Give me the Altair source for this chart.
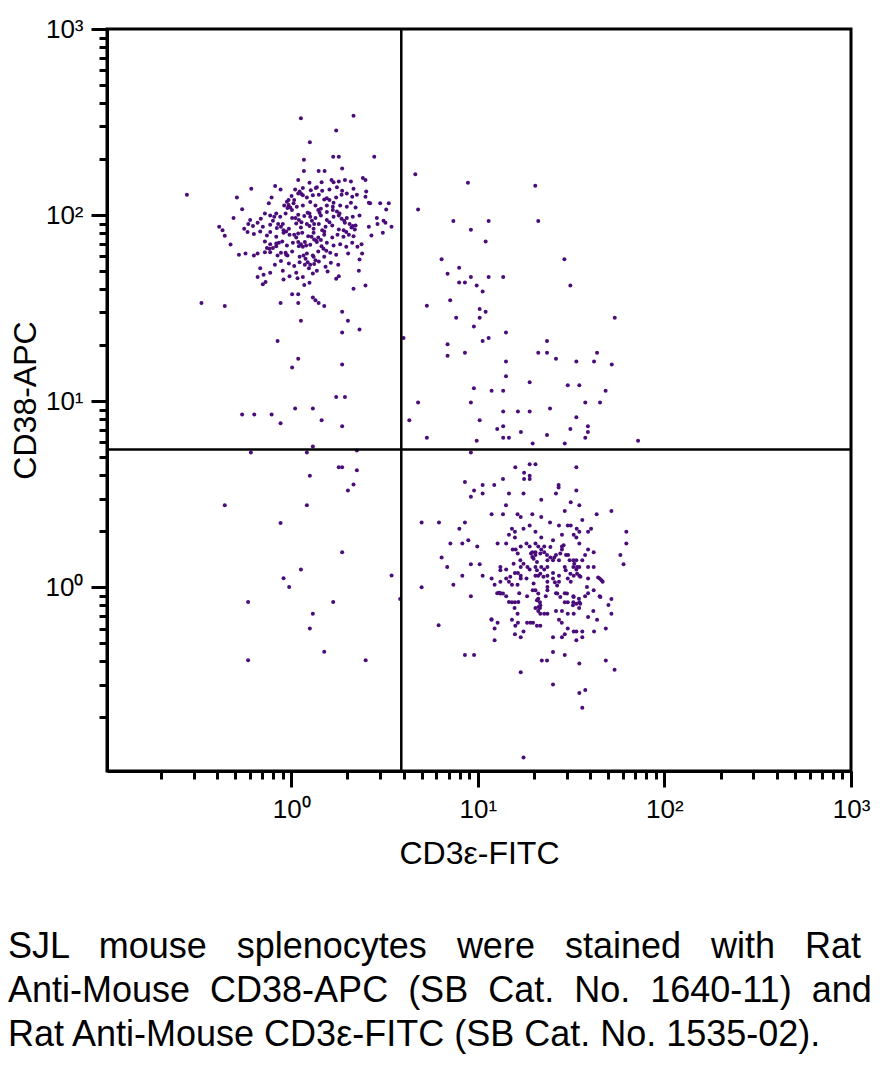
import altair as alt
import pandas as pd

# Events as (log10 CD3e-FITC, log10 CD38-APC)
cd3neg_cd38pos = [
    (0.052, 2.52), (0.334, 2.534), (0.241, 2.455), (0.10, 2.392), (0.225, 2.314), (0.255, 2.314),
    (0.445, 2.314), (0.068, 2.297), (0.273, 2.251), (0.068, 2.237), (0.147, 2.237), (0.179, 2.237),
    (-0.559, 2.109), (-0.214, 2.142), (-0.291, 2.095), (-0.263, 2.032), (-0.309, 1.984),
    (-0.386, 1.937), (-0.368, 1.919), (-0.356, 1.889), (-0.325, 1.842),
    (0.0375, 2.188), (0.098, 2.174), (0.163, 2.177), (0.216, 2.188), (0.227, 2.177), (0.255, 2.181),
    (0.288, 2.188), (0.32, 2.181), (0.384, 2.199), (0.398, 2.188), (0.1375, 2.149),
    (-0.086, 2.156), (-0.057, 2.138), (0.021, 2.138), (0.0625, 2.145), (0.105, 2.134), (0.132, 2.145),
    (0.166, 2.131), (0.205, 2.138), (0.245, 2.149), (0.273, 2.131), (0.334, 2.142), (0.402, 2.127),
    (0.298, 2.116),
    (-0.105, 2.095), (-0.014, 2.081), (0.002, 2.102), (0.0375, 2.116), (0.0625, 2.106), (0.084, 2.095),
    (0.116, 2.106), (0.148, 2.109), (0.177, 2.084), (0.241, 2.095), (0.27, 2.109), (0.327, 2.099),
    (0.352, 2.109), (0.398, 2.099), (0.423, 2.063), (0.477, 2.063), (0.523, 2.063),
    (-0.12, 2.063), (-0.0375, 2.052), (-0.02, 2.038), (0.0125, 2.063), (0.03, 2.045), (0.0625, 2.052),
    (0.102, 2.07), (0.13, 2.052), (0.159, 2.034), (0.191, 2.052), (0.227, 2.066), (0.2625, 2.052),
    (0.298, 2.045), (0.32, 2.066), (0.345, 2.041), (0.416, 2.066), (0.509, 2.03),
    (-0.22, 1.973), (-0.163, 1.98), (-0.141, 2.009), (-0.1125, 1.998), (-0.08, 2.009), (-0.059, 1.991),
    (-0.03, 2.009), (0.005, 1.984), (0.0375, 2.002), (0.07, 1.995), (0.098, 2.009), (0.13, 1.984),
    (0.159, 1.998), (0.191, 2.016), (0.227, 1.991), (0.259, 2.009), (0.298, 1.984), (0.33, 1.991),
    (0.366, 1.998), (0.459, 1.984), (0.495, 1.97),
    (-0.252, 1.927), (-0.23, 1.952), (-0.205, 1.941), (-0.18, 1.959), (-0.152, 1.937), (-0.1125, 1.948),
    (-0.077, 1.93), (-0.045, 1.952), (-0.0125, 1.927), (0.027, 1.955), (0.052, 1.934), (0.084, 1.952),
    (0.12, 1.927), (0.148, 1.952), (0.184, 1.937), (0.22, 1.944), (0.255, 1.923), (0.2875, 1.959),
    (0.323, 1.934), (0.345, 1.944), (0.416, 1.937), (0.4625, 1.952), (0.505, 1.959), (0.5375, 1.937),
    (-0.234, 1.909), (-0.20, 1.898), (-0.166, 1.912), (-0.13, 1.891), (-0.1125, 1.909), (-0.08, 1.883),
    (-0.041, 1.905), (-0.009, 1.894), (0.027, 1.88), (0.059, 1.905), (0.091, 1.887), (0.12, 1.905),
    (0.145, 1.88), (0.177, 1.894), (0.22, 1.88), (0.248, 1.894), (0.28, 1.883), (0.309, 1.894),
    (0.334, 1.887), (0.43, 1.891), (0.491, 1.905),
    (-0.141, 1.858), (-0.1125, 1.844), (-0.08, 1.833), (-0.048, 1.858), (-0.023, 1.837), (0.009, 1.851),
    (0.041, 1.833), (0.073, 1.855), (0.102, 1.84), (0.134, 1.862), (0.1625, 1.833), (0.191, 1.851),
    (0.227, 1.837), (0.2625, 1.844), (0.295, 1.83), (0.327, 1.851), (0.355, 1.83), (0.377, 1.844),
    (-0.28, 1.787), (-0.245, 1.794), (-0.20, 1.783), (-0.18, 1.794), (-0.141, 1.801), (-0.1125, 1.801),
    (-0.073, 1.783), (-0.055, 1.797), (-0.027, 1.787), (0.005, 1.805), (0.045, 1.776), (0.084, 1.794),
    (0.116, 1.783), (0.145, 1.805), (0.177, 1.776), (0.209, 1.797), (0.241, 1.787), (0.305, 1.794),
    (0.38, 1.794),
    (-0.166, 1.715), (-0.0875, 1.733), (-0.055, 1.754), (-0.0125, 1.74), (0.016, 1.726), (0.045, 1.747),
    (0.073, 1.733), (0.095, 1.715), (0.123, 1.737), (0.148, 1.751), (0.184, 1.722), (0.2125, 1.744),
    (0.252, 1.733), (0.366, 1.762),
    (-0.18, 1.668), (-0.148, 1.679), (-0.1125, 1.69), (-0.045, 1.701), (-0.009, 1.672), (0.027, 1.69),
    (0.0625, 1.668), (0.116, 1.686), (0.1375, 1.701), (0.195, 1.697), (0.255, 1.672), (0.3625, 1.701),
    (-0.152, 1.629), (-0.1375, 1.64), (-0.041, 1.654), (0.034, 1.661), (0.07, 1.625), (0.098, 1.636),
    (0.241, 1.658), (0.334, 1.604), (0.398, 1.622), (0.005, 1.575), (0.0375, 1.575), (0.116, 1.557),
    (-0.481, 1.527), (-0.356, 1.511), (-0.057, 1.527), (0.0375, 1.527), (0.13, 1.543), (0.147, 1.527),
    (0.177, 1.511), (0.273, 1.48), (0.052, 1.432), (0.304, 1.432), (0.366, 1.385), (0.273, 1.369),
    (-0.073, 1.323), (0.0375, 1.228), (0.005, 1.181), (0.273, 1.197), (0.241, 1.023), (0.288, 1.023),
    (0.021, 0.961), (0.116, 0.961), (-0.263, 0.928), (-0.198, 0.928), (-0.105, 0.928), (-0.057, 0.882),
    (0.163, 0.898), (0.273, 0.866), (0.116, 0.756),
]

# extra events read from the overlapping blobs in the dense CD38+ core
cd3neg_cd38pos_core = [
    (-0.023, 2.072), (-0.014, 2.054), (-0.005, 2.041), (0.004, 2.027), (0.016, 2.081), (0.045, 2.127),
    (0.055, 2.113), (0.088, 2.013), (0.102, 1.991), (0.111, 1.97), (0.123, 1.952), (0.098, 1.941),
    (-0.07, 1.952), (-0.055, 1.937), (-0.041, 1.919), (-0.027, 1.912), (-0.13, 1.823), (-0.116, 1.819),
    (-0.098, 1.823), (-0.08, 1.848), (-0.066, 1.851), (0.0375, 1.855), (0.052, 1.844), (0.0625, 1.83),
    (0.08, 1.837), (0.109, 1.883), (0.123, 1.869), (0.1375, 1.855), (0.159, 1.866), (0.245, 2.02),
    (0.255, 1.998), (0.27, 1.98), (0.284, 1.97), (0.313, 1.952), (0.33, 1.941), (0.341, 1.923),
    (-0.03, 1.797), (-0.02, 1.783), (0.066, 1.783), (0.077, 1.765), (0.088, 1.747), (0.102, 1.733),
    (0.12, 1.776), (0.13, 1.758), (0.173, 1.819), (0.188, 1.808), (0.023, 1.984), (0.041, 1.973),
    (0.055, 1.962), (0.191, 1.973), (0.205, 1.962), (0.166, 1.919), (0.177, 1.912), (0.016, 1.894),
    (0.0375, 1.901), (0.281, 1.919), (0.295, 1.909), (-0.091, 1.991), (-0.098, 1.97), (0.145, 2.027),
    (0.152, 2.013), (0.191, 2.091), (0.205, 2.081), (0.223, 2.045), (0.223, 2.027),
]

cd3neg_cd38neg = [
    (-0.216, 0.724), (0.084, 0.724), (0.352, 0.735), (0.255, 0.645), (0.273, 0.645), (0.352, 0.629),
    (0.10, 0.599), (0.334, 0.552), (0.304, 0.52), (-0.356, 0.441), (0.084, 0.441), (-0.057, 0.346),
    (0.273, 0.188), (0.052, 0.095), (-0.041, 0.048), (-0.011, 0.002), (0.538, 0.063), (-0.231, -0.079),
    (0.225, -0.079), (0.584, -0.063), (0.116, -0.142), (0.10, -0.222), (0.177, -0.346),
    (-0.231, -0.392), (0.399, -0.392),
]

cd3pos_cd38pos = [
    (0.665, 2.22), (0.947, 2.174), (1.308, 2.158), (0.68, 2.03), (0.869, 1.968), (1.058, 1.968),
    (1.324, 1.968), (0.963, 1.921), (1.042, 1.858), (0.806, 1.763), (1.464, 1.763), (0.90, 1.717),
    (0.838, 1.685), (0.963, 1.668), (1.058, 1.668), (1.136, 1.668), (0.90, 1.638), (0.931, 1.638),
    (0.994, 1.622), (1.026, 1.59), (1.496, 1.622), (0.727, 1.513), (0.852, 1.543), (1.01, 1.496),
    (1.042, 1.48), (0.884, 1.448), (1.01, 1.448), (1.734, 1.448), (0.979, 1.401), (1.151, 1.369),
    (0.602, 1.339), (1.026, 1.323), (1.058, 1.339), (1.371, 1.323), (0.838, 1.306), (0.838, 1.244),
    (0.931, 1.26), (1.324, 1.26), (1.371, 1.26), (1.419, 1.228), (1.151, 1.213), (1.528, 1.213),
    (1.623, 1.213), (1.639, 1.26), (1.718, 1.197), (1.151, 1.134), (1.278, 1.102), (0.979, 1.07),
    (1.074, 1.056), (1.136, 1.056), (1.482, 1.086), (1.544, 1.086), (1.685, 1.056), (0.68, 0.993),
    (0.963, 0.993), (1.576, 0.993), (1.655, 0.993), (1.136, 0.944), (1.215, 0.944), (1.278, 0.944),
    (1.387, 0.961), (0.633, 0.898), (1.01, 0.898), (1.528, 0.914), (1.104, 0.851), (1.136, 0.866),
    (1.496, 0.851), (1.59, 0.866), (1.59, 0.835), (1.231, 0.835), (1.371, 0.819), (0.727, 0.803),
    (1.136, 0.803), (1.167, 0.803), (1.576, 0.803), (0.994, 0.787), (1.859, 0.787), (1.294, 0.772),
    (1.466, 0.772),
]

cd3pos_cd38neg = [
    (0.963, 0.724), (1.201, 0.645), (1.278, 0.661), (1.309, 0.661), (1.528, 0.645),
    (1.248, 0.615), (1.248, 0.582), (1.278, 0.599), (1.278, 0.582), (1.135, 0.582),
    (0.931, 0.566), (1.026, 0.55), (1.088, 0.55), (0.98, 0.52), (1.026, 0.504), (0.963, 0.487),
    (1.167, 0.504), (1.245, 0.504), (1.419, 0.504), (1.433, 0.55), (1.433, 0.536), (1.528, 0.52),
    (1.34, 0.471), (1.151, 0.441), (1.498, 0.457), (1.544, 0.441),
    (1.074, 0.392), (1.135, 0.392), (1.213, 0.392), (1.23, 0.378), (1.292, 0.392), (1.34, 0.378),
    (1.466, 0.41), (1.637, 0.392), (1.716, 0.41), (1.56, 0.362),
    (0.699, 0.348), (0.792, 0.348), (0.931, 0.348), (0.901, 0.315), (1.387, 0.348), (1.435, 0.332),
    (1.482, 0.332), (1.498, 0.332), (1.53, 0.315), (1.544, 0.299), (1.607, 0.315), (1.591, 0.299),
    (1.796, 0.299), (1.183, 0.315), (1.199, 0.299), (1.245, 0.315), (1.278, 0.332), (1.309, 0.299),
    (1.451, 0.283), (1.514, 0.283), (1.528, 0.267), (1.167, 0.283), (1.199, 0.267), (1.34, 0.267),
    (1.403, 0.253),
    (0.853, 0.235), (0.917, 0.235), (0.949, 0.253), (0.997, 0.219), (1.106, 0.235), (1.152, 0.235),
    (1.23, 0.219), (1.261, 0.235), (1.278, 0.219), (1.309, 0.235), (1.324, 0.219), (1.356, 0.219),
    (1.34, 0.203), (1.451, 0.219), (1.451, 0.203), (1.544, 0.235), (1.591, 0.203), (1.621, 0.188),
    (1.796, 0.235),
    (1.187, 0.203), (1.203, 0.203), (1.292, 0.188), (1.309, 0.174), (1.292, 0.163), (1.309, 0.188),
    (1.356, 0.188), (1.371, 0.174), (1.373, 0.145), (1.403, 0.145), (1.435, 0.145), (1.419, 0.174),
    (1.473, 0.174), (1.484, 0.174), (1.512, 0.145), (1.528, 0.145), (1.56, 0.145), (1.575, 0.174),
    (1.764, 0.174),
    (0.806, 0.16), (0.836, 0.109), (0.963, 0.124), (1.01, 0.124), (1.121, 0.109), (1.152, 0.095),
    (1.23, 0.109), (1.245, 0.127), (1.278, 0.095), (1.309, 0.109), (1.34, 0.109), (1.356, 0.095),
    (1.466, 0.109), (1.512, 0.109), (1.528, 0.095), (1.544, 0.109), (1.591, 0.109), (1.781, 0.124),
    (0.917, 0.062), (1.026, 0.062), (1.074, 0.047), (1.09, 0.014), (1.121, 0.03), (1.152, 0.047),
    (1.167, 0.03), (1.183, 0.014), (1.199, 0.077), (1.215, 0.077), (1.23, 0.062), (1.23, 0.047),
    (1.213, 0.014), (1.261, 0.047), (1.309, 0.062), (1.324, 0.062), (1.309, -0.016), (1.373, 0.062),
    (1.373, 0.03), (1.403, 0.077), (1.403, 0.047), (1.435, 0.062), (1.435, 0.03), (1.482, 0.047),
    (1.498, 0.03), (1.514, 0.062), (1.544, 0.062), (1.591, 0.047), (1.653, 0.047), (1.669, 0.03),
    (0.869, 0.014), (0.699, 0.0), (0.963, -0.048), (1.104, -0.032), (1.121, -0.032), (1.152, -0.048),
    (1.183, -0.081), (1.199, -0.081), (1.222, -0.032), (1.264, -0.048), (1.294, -0.016),
    (1.333, -0.081), (1.333, -0.111), (1.364, -0.048), (1.419, -0.032), (1.466, -0.032),
    (1.466, -0.081), (1.482, -0.081), (1.512, -0.048), (1.512, -0.081), (1.544, -0.081),
    (1.575, -0.048), (1.591, -0.032), (1.621, -0.016), (1.653, -0.048), (1.716, -0.063),
    (1.70, -0.095), (1.716, -0.142),
    (1.073, -0.172), (1.197, -0.111), (1.213, -0.142), (1.309, -0.111), (1.324, -0.127),
    (1.356, -0.142), (1.419, -0.127), (1.451, -0.127), (1.482, -0.142), (1.619, -0.127),
    (1.543, -0.111),
    (0.79, -0.204), (1.074, -0.174), (1.106, -0.19), (1.09, -0.222), (1.09, -0.285), (1.183, -0.174),
    (1.201, -0.206), (1.215, -0.19), (1.199, -0.253), (1.23, -0.269), (1.245, -0.237), (1.264, -0.19),
    (1.282, -0.19), (1.296, -0.19), (1.317, -0.206), (1.335, -0.206), (1.403, -0.269), (1.435, -0.174),
    (1.45, -0.19), (1.466, -0.253), (1.451, -0.269), (1.482, -0.222), (1.514, -0.237), (1.528, -0.237),
    (1.56, -0.237), (1.56, -0.269), (1.528, -0.285), (1.591, -0.16), (1.623, -0.237), (1.639, -0.174),
    (1.686, -0.222),
    (0.931, -0.364), (0.98, -0.364), (1.23, -0.457), (1.343, -0.394), (1.371, -0.394), (1.403, -0.348),
    (1.466, -0.364), (1.403, -0.522), (1.544, -0.41), (1.544, -0.568), (1.576, -0.552), (1.56, -0.647),
    (1.686, -0.394), (1.733, -0.443), (1.245, -0.914),
]

# extra events read from the overlapping blobs in the dense CD3+ core
cd3pos_cd38neg_core = [
    (1.285, 0.181), (1.299, 0.154), (1.317, 0.136), (1.335, 0.181), (1.389, 0.16), (1.41, 0.16),
    (1.492, 0.145), (1.517, 0.127), (1.532, 0.109), (1.113, -0.03), (1.135, -0.034), (1.167, -0.079),
    (1.217, -0.079), (1.317, 0.091), (1.335, 0.073), (1.352, 0.056), (1.413, 0.027), (1.425, 0.009),
    (1.471, 0.091), (1.496, 0.073), (1.532, 0.073), (1.55, 0.056), (1.645, 0.052), (1.663, 0.038),
    (1.324, -0.034), (1.324, -0.061), (1.335, -0.097), (1.514, -0.052), (1.528, -0.088),
    (1.542, -0.061), (1.373, 0.109), (1.266, 0.109), (1.228, 0.145), (1.442, 0.181), (1.46, 0.226),
    (1.214, 0.181), (1.192, 0.127), (1.121, 0.091), (1.299, 0.02), (1.373, -0.016), (1.442, -0.052),
    (1.585, 0.002), (1.621, 0.109), (1.389, 0.217), (1.174, 0.056),
    (1.317, -0.07), (1.326, -0.106), (1.335, -0.142), (1.121, -0.034), (1.373, -0.142),
    (1.51, -0.097), (1.514, -0.142), (1.426, -0.034), (1.478, -0.034), (1.549, -0.088),
    (1.657, -0.052), (1.373, 0.002),
]

populations = [
    ("CD3- CD38+", cd3neg_cd38pos),
    ("CD3- CD38+", cd3neg_cd38pos_core),
    ("CD3- CD38-", cd3neg_cd38neg),
    ("CD3+ CD38+", cd3pos_cd38pos),
    ("CD3+ CD38-", cd3pos_cd38neg),
    ("CD3+ CD38-", cd3pos_cd38neg_core),
]

# quadrant gate positions
cd3_gate = [3.89]
cd38_gate = [5.5]

axis_domain = [0.103, 1000]
tick_values = [0.2, 0.3, 0.4, 0.5, 0.6, 0.7, 0.8, 0.9,
               1, 2, 3, 4, 5, 6, 7, 8, 9,
               10, 20, 30, 40, 50, 60, 70, 80, 90,
               100, 200, 300, 400, 500, 600, 700, 800, 900, 1000]
major_values = [1, 10, 100, 1000]
major_labels = ["10\u2070", "10\u00b9", "10\u00b2", "10\u00b3"]

caption_lines = [
    ["SJL", "mouse", "splenocytes", "were", "stained", "with", "Rat"],
    ["Anti-Mouse", "CD38-APC", "(SB", "Cat.", "No.", "1640-11)", "and"],
    ["Rat", "Anti-Mouse", "CD3\u03b5-FITC", "(SB", "Cat.", "No.", "1535-02)."],
]
gap_fill = [2, 1, 0]

rows = []
for name, pts in populations:
    for lx, ly in pts:
        rows.append({"population": name, "cd3": 10 ** lx, "cd38": 10 ** ly})
events = pd.DataFrame(rows)

label_expr = " : ".join(
    f"datum.value == {v} ? '{t}'" for v, t in zip(major_values, major_labels)
) + " : ''"
major_test = " || ".join(f"datum.value == {v}" for v in major_values)

caption = [(" " + "\u00a0" * k).join(words) for words, k in zip(caption_lines, gap_fill)]

FONT = "Liberation Sans"


def make_axis(title, title_padding, label_padding):
    return alt.Axis(
        title=title,
        values=tick_values,
        labelExpr=label_expr,
        labelOverlap=False,
        labelFlush=False,
        grid=False,
        tickSize={"condition": {"test": major_test, "value": 16}, "value": 8},
        tickWidth=3,
        tickColor="black",
        domainColor="black",
        domainWidth=3,
        labelPadding=label_padding,
        titlePadding=title_padding,
    )


x_scale = alt.Scale(type="log", domain=axis_domain, nice=False)
y_scale = alt.Scale(type="log", domain=axis_domain, nice=False)

points = alt.Chart(events).mark_circle(size=16, opacity=1, color="#4a0c7a").encode(
    x=alt.X("cd3:Q", scale=x_scale, axis=make_axis("CD3\u03b5-FITC", 16, 9)),
    y=alt.Y("cd38:Q", scale=y_scale, axis=make_axis("CD38-APC", 3, 8)),
)

vline = alt.Chart(pd.DataFrame({"cd3": cd3_gate})).mark_rule(color="black", strokeWidth=2.5).encode(
    x=alt.X("cd3:Q", scale=x_scale)
)
hline = alt.Chart(pd.DataFrame({"cd38": cd38_gate})).mark_rule(color="black", strokeWidth=2.5).encode(
    y=alt.Y("cd38:Q", scale=y_scale)
)

chart = (
    alt.layer(points, vline, hline)
    .properties(
        width=744,
        height=742,
        autosize=alt.AutoSizeParams(type="none"),
        padding={"left": 99, "top": 21, "right": 25, "bottom": 290},
        title=alt.TitleParams(
            text=caption,
            orient="bottom",
            anchor="start",
            frame="group",
            font=FONT,
            fontSize=36,
            fontWeight="normal",
            color="black",
            lineHeight=44,
            offset=61,
            dx=-99,
        ),
    )
    .configure_view(stroke="black", strokeWidth=3)
    .configure_axis(
        labelFont=FONT,
        labelFontSize=26,
        labelColor="black",
        titleFont=FONT,
        titleFontSize=32,
        titleFontWeight="normal",
        titleColor="black",
    )
)

chart.save("out.html", embed_options={"renderer": "svg", "actions": False})
